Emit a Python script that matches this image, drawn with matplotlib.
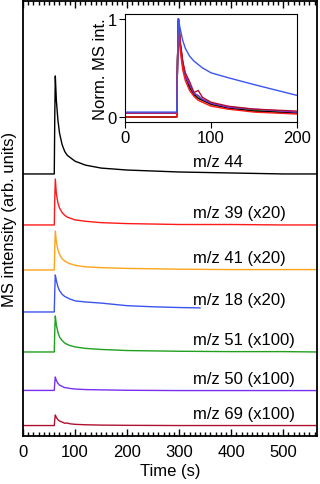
import numpy as np
import matplotlib
matplotlib.use("Agg")
import matplotlib.pyplot as plt
from matplotlib.ticker import MultipleLocator

plt.rcParams['font.family'] = ['Liberation Sans', 'DejaVu Sans']
plt.rcParams['font.size'] = 12

# time axis (s) shared by most traces
t = [0, 60, 61, 62, 64, 67, 70, 75, 80, 85, 90, 100, 120, 150, 200, 250, 300, 400, 500, 565]
# normalized intensities
n44 = [0.0, 0.0, 0.6, 1.0, 0.75, 0.55, 0.42, 0.30, 0.23, 0.19, 0.17, 0.13, 0.09, 0.06, 0.04, 0.03, 0.02, 0.01, 0.0, 0.0]
n39 = [0.0, 0.0, 0.6, 1.0, 0.68, 0.48, 0.37, 0.27, 0.21, 0.17, 0.15, 0.11, 0.08, 0.05, 0.03, 0.02, 0.01, 0.01, 0.0, 0.0]
n41 = [0.0, 0.0, 0.6, 1.0, 0.72, 0.52, 0.40, 0.29, 0.23, 0.19, 0.16, 0.12, 0.08, 0.06, 0.04, 0.03, 0.02, 0.01, 0.01, 0.01]
n51 = [0.0, 0.0, 0.6, 1.0, 0.75, 0.55, 0.42, 0.32, 0.25, 0.21, 0.18, 0.14, 0.10, 0.07, 0.04, 0.03, 0.02, 0.01, 0.01, 0.0]
n50 = [0.04, 0.04, 0.6, 1.0, 0.75, 0.55, 0.42, 0.33, 0.24, 0.22, 0.18, 0.14, 0.10, 0.08, 0.05, 0.04, 0.03, 0.03, 0.03, 0.03]
n69 = [0.04, 0.04, 0.6, 1.0, 0.78, 0.57, 0.45, 0.36, 0.25, 0.27, 0.20, 0.15, 0.11, 0.08, 0.06, 0.05, 0.04, 0.04, 0.04, 0.04]

# m/z 18 stops at ~340 s
t18 = [0, 60, 61, 62, 64, 67, 70, 75, 80, 90, 100, 120, 150, 200, 250, 300, 340]
n18 = [0.0, 0.0, 0.6, 1.0, 0.85, 0.68, 0.58, 0.48, 0.42, 0.35, 0.30, 0.27, 0.24, 0.17, 0.14, 0.12, 0.11]
n18_inset = [0.05, 0.05, 0.6, 1.0, 0.9, 0.78, 0.7, 0.62, 0.57, 0.5, 0.45, 0.4, 0.33, 0.22, 0.2, 0.18, 0.17]

labels = ["m/z 44", "m/z 39 (x20)", "m/z 41 (x20)", "m/z 18 (x20)",
          "m/z 51 (x100)", "m/z 50 (x100)", "m/z 69 (x100)"]
colors = ["black", "#ff1a1a", "#ffa31a", "#3a55ee", "#1fa01f", "#7a2ff0", "#b01030"]
peak_heights = [98, 46, 39, 37, 36, 14, 11]
norms = [n44, n39, n41, n18, n51, n50, n69]
times = [t, t, t, t18, t, t, t]

offsets = [262, 211, 166, 124, 84, 45, 10]

fig = plt.figure(figsize=(3.2, 4.85), dpi=100)
ax = fig.add_axes([0.072, 0.099, 0.919, 0.897])

for tt, nn, h, off, c, lab in zip(times, norms, peak_heights, offsets, colors, labels):
    ax.plot(tt, off + h * np.array(nn), color=c, lw=1.0)
    ax.text(327, off + 12, lab, fontsize=12, va='center', ha='left')

ax.set_xlim(0, 565)
ax.set_ylim(0, 435)
ax.set_yticks([])
ax.xaxis.set_major_locator(MultipleLocator(100))
ax.xaxis.set_minor_locator(MultipleLocator(10))
ax.tick_params(axis='x', which='both', direction='in', top=True, width=1, pad=6)
ax.tick_params(axis='x', which='major', length=5)
ax.tick_params(axis='x', which='minor', length=3)
for s in ax.spines.values():
    s.set_linewidth(1.3)
ax.set_xlabel("Time (s)", labelpad=3)
ax.set_ylabel("MS intensity (arb. units)", labelpad=4)

# inset with normalized traces
ins = fig.add_axes([0.391, 0.7464, 0.5375, 0.2227])
inset_order = [2, 4, 0, 5, 6, 1, 3]
for i in inset_order:
    nn = n18_inset if i == 3 else norms[i]
    ins.plot(times[i], nn, color=colors[i], lw=1.0)
ins.set_xlim(0, 200)
ins.set_ylim(-0.051, 1.05)
ins.set_xticks([0, 100, 200])
ins.set_yticks([0, 1])
ins.tick_params(direction='out', length=4, pad=2)
ins.set_ylabel("Norm. MS int.", labelpad=0)

fig.savefig("out.png", dpi=100)
